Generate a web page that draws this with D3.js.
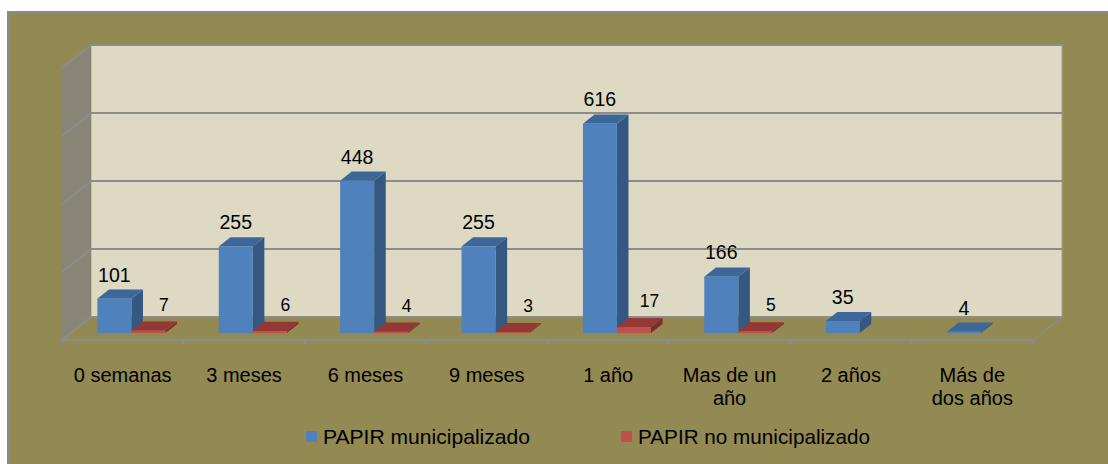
<!DOCTYPE html>
<html lang="es">
<head>
<meta charset="UTF-8">
<title>PAPIR 3D columnas</title>
<script src="https://cdn.jsdelivr.net/npm/d3@7"></script>
<style>
    body{ margin:0; background:#fff; }
    svg text{ font-family:"Liberation Sans", Arial, sans-serif; fill:#000; }
</style>
</head>
<body>
<svg id="chart" width="1108" height="464"></svg>
<script>
    // data
    let categories = ["0 semanas", "3 meses", "6 meses", "9 meses", "1 año", "Mas de un año", "2 años", "Más de dos años"]
    let catLines = [["0 semanas"], ["3 meses"], ["6 meses"], ["9 meses"], ["1 año"], ["Mas de un", "año"], ["2 años"], ["Más de", "dos años"]]
    let municipalizado = [101, 255, 448, 255, 616, 166, 35, 4]
    let noMunicipalizado = [7, 6, 4, 3, 17, 5, null, null]
    let seriesNames = ["PAPIR municipalizado", "PAPIR no municipalizado"]
    let yTicks = [0, 200, 400, 600, 800]

    let svg = d3.select("#chart")

    // front floor edge and depth vector (front -> back wall)
    let x0 = 62, x1 = 1033, base = 340
    let depth = {x: 29, y: -23}
    let x = d3.scaleBand().domain(categories).range([x0, x1])
    let y = d3.scaleLinear().domain([0, 800]).range([0, 272])

    // point in front-plane x, value v, depth fraction z
    function P(px, v, z){
        return [px + z * depth.x, base - y(v) + z * depth.y]
    }
    function poly(pts){ return pts.map(p => p.join(",")).join(" ") }

    // outer frame
    svg.append("rect")
        .attr("x", 8).attr("y", 12)
        .attr("width", 1112).attr("height", 470)
        .attr("fill", "#938953")
        .attr("stroke", "#8a8a8a").attr("stroke-width", 2)

    // back wall
    let bw = [P(x0, 800, 1), P(x1, 800, 1), P(x1, 0, 1), P(x0, 0, 1)]
    svg.append("polygon").attr("points", poly(bw))
        .attr("fill", "#ddd9c3").attr("stroke", "#a5a290").attr("stroke-width", 1)

    // left wall
    let lw = [P(x0, 800, 0), P(x0, 800, 1), P(x0, 0, 1), P(x0, 0, 0)]
    svg.append("polygon").attr("points", poly(lw))
        .attr("fill", "#8a8677")

    // floor
    let fl = [P(x0, 0, 0), P(x0, 0, 1), P(x1, 0, 1), P(x1, 0, 0)]
    svg.append("polygon").attr("points", poly(fl))
        .attr("fill", "#938953").attr("stroke", "#8c8c8c").attr("stroke-width", 1.5)

    // gridlines: back wall + left wall
    yTicks.forEach(t => {
        let a = P(x0, t, 0), b = P(x0, t, 1), c = P(x1, t, 1)
        svg.append("polyline").attr("points", poly([a, b, c]))
            .attr("fill", "none").attr("stroke", "#8c8c8c").attr("stroke-width", 2)
    })

    // front axis line and ticks
    svg.append("line")
        .attr("x1", x0).attr("x2", x1).attr("y1", base).attr("y2", base)
        .attr("stroke", "#8c8c8c").attr("stroke-width", 2)
    d3.range(categories.length + 1).forEach(i => {
        let tx = x0 + i * x.bandwidth()
        svg.append("line")
            .attr("x1", tx).attr("x2", tx).attr("y1", base).attr("y2", base + 5)
            .attr("stroke", "#8c8c8c").attr("stroke-width", 1.5)
    })

    let z0 = 0.3, z1 = 0.7, bwid = 34
    let blue = {front: "#4f81bd", top: "#3e6799", side: "#345882"}
    let red = {front: "#c0504d", top: "#953735", side: "#7b2d2b"}

    function bar(px, v, col){
        let g = svg.append("g")
        // right side
        g.append("polygon").attr("points", poly([P(px + bwid, 0, z0), P(px + bwid, 0, z1), P(px + bwid, v, z1), P(px + bwid, v, z0)]))
            .attr("fill", col.side)
        // top
        g.append("polygon").attr("points", poly([P(px, v, z0), P(px, v, z1), P(px + bwid, v, z1), P(px + bwid, v, z0)]))
            .attr("fill", col.top)
        // front
        let a = P(px, v, z0), b = P(px + bwid, 0, z0)
        g.append("rect").attr("x", a[0]).attr("y", a[1])
            .attr("width", b[0] - a[0]).attr("height", Math.max(b[1] - a[1], 0.8))
            .attr("fill", col.front)
    }

    categories.forEach((c, i) => {
        let cx = x(c) + x.bandwidth() / 2
        bar(cx - bwid, municipalizado[i], blue)
        if (noMunicipalizado[i] !== null) bar(cx, noMunicipalizado[i], red)
    })

    // value labels
    categories.forEach((c, i) => {
        let cx = x(c) + x.bandwidth() / 2
        let p = P(cx - bwid / 2, municipalizado[i], z1)
        svg.append("text")
            .attr("x", P(cx - bwid / 2, 0, z0)[0]).attr("y", p[1] - 8)
            .attr("text-anchor", "middle").attr("font-size", "19.5px")
            .text(municipalizado[i])
        if (noMunicipalizado[i] !== null) {
            let q = P(cx + bwid / 2, noMunicipalizado[i], z1)
            svg.append("text")
                .attr("x", q[0] + 4).attr("y", q[1] - 11)
                .attr("text-anchor", "middle").attr("font-size", "17.5px")
                .text(noMunicipalizado[i])
        }
    })

    // category labels
    categories.forEach((c, i) => {
        let t = svg.append("text")
            .attr("x", x(c) + x.bandwidth() / 2).attr("y", 382)
            .attr("text-anchor", "middle").attr("font-size", "20px")
        catLines[i].forEach((l, k) => {
            t.append("tspan").attr("x", x(c) + x.bandwidth() / 2)
                .attr("dy", k === 0 ? 0 : 23).text(l)
        })
    })

    // legend
    let legendX = [306, 621], legendW = [207, 232]
    let legendCols = [blue.front, red.front]
    seriesNames.forEach((s, i) => {
        svg.append("rect").attr("x", legendX[i]).attr("y", 431)
            .attr("width", 11).attr("height", 11).attr("fill", legendCols[i])
        svg.append("text").attr("x", legendX[i] + 17).attr("y", 444)
            .attr("font-size", "21px")
            .attr("textLength", legendW[i]).attr("lengthAdjust", "spacingAndGlyphs")
            .text(s)
    })
</script>
</body>
</html>
